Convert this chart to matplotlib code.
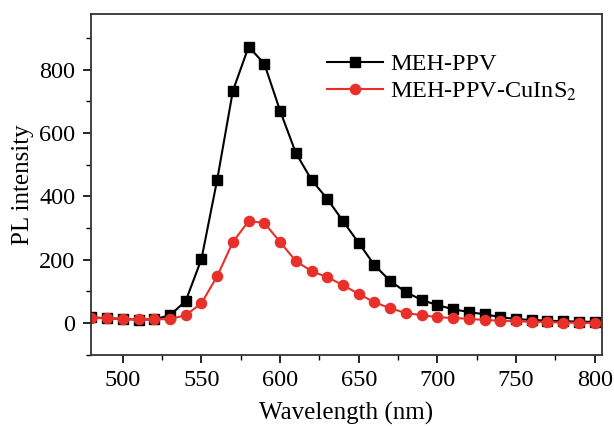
import matplotlib
matplotlib.use("Agg")
import matplotlib.pyplot as plt
from matplotlib.ticker import MultipleLocator

wavelength = list(range(480, 801, 10))
meh_ppv = [18, 16, 13, 11, 12, 25, 70, 202, 452, 733, 872, 818, 670, 537, 452, 392,
           322, 253, 183, 133, 98, 73, 57, 44, 35, 28, 19, 13, 10, 8, 6, 5, 4]
meh_ppv_cuins2 = [16, 16, 13, 12, 12, 13, 25, 63, 148, 256, 322, 316, 256, 196, 164, 145,
                  120, 92, 66, 47, 32, 25, 19, 16, 14, 10, 8, 6, 4, 3, 2, 1, 0]

plt.rcParams['font.family'] = ['Liberation Serif', 'DejaVu Serif']
plt.rcParams['mathtext.fontset'] = 'stix'

fig = plt.figure(figsize=(6.14, 4.26), dpi=100)
ax = fig.add_axes([0.148, 0.167, 0.832, 0.800])

ax.plot(wavelength, meh_ppv, color='black', marker='s', markersize=6.5, lw=1.5,
        label='MEH-PPV')
ax.plot(wavelength, meh_ppv_cuins2, color='#e8302a', marker='o', markersize=7.3, lw=1.5,
        label='MEH-PPV-CuInS$_2$')

ax.set_xlim(479.7, 804.5)
ax.set_ylim(-100, 975)
ax.xaxis.set_major_locator(MultipleLocator(50))
ax.xaxis.set_minor_locator(MultipleLocator(25))
ax.yaxis.set_major_locator(MultipleLocator(200))
ax.yaxis.set_minor_locator(MultipleLocator(100))
ax.tick_params(which='both', direction='out', top=False, right=False, labelsize=17.5)
ax.tick_params(which='major', length=6, width=1.2, pad=5)
ax.tick_params(which='minor', length=3.5, width=1.0)
for s in ax.spines.values():
    s.set_linewidth(1.3)
    s.set_color('#333333')

ax.set_xlabel('Wavelength (nm)', fontsize=18, labelpad=8)
ax.set_ylabel('PL intensity', fontsize=18, labelpad=4)

leg = ax.legend(loc='upper left', bbox_to_anchor=(0.462, 0.885), frameon=False,
                fontsize=17.5, handlelength=2.3, handletextpad=0.3, labelspacing=0.22,
                borderpad=0, borderaxespad=0)

fig.savefig('out.png', dpi=100)
